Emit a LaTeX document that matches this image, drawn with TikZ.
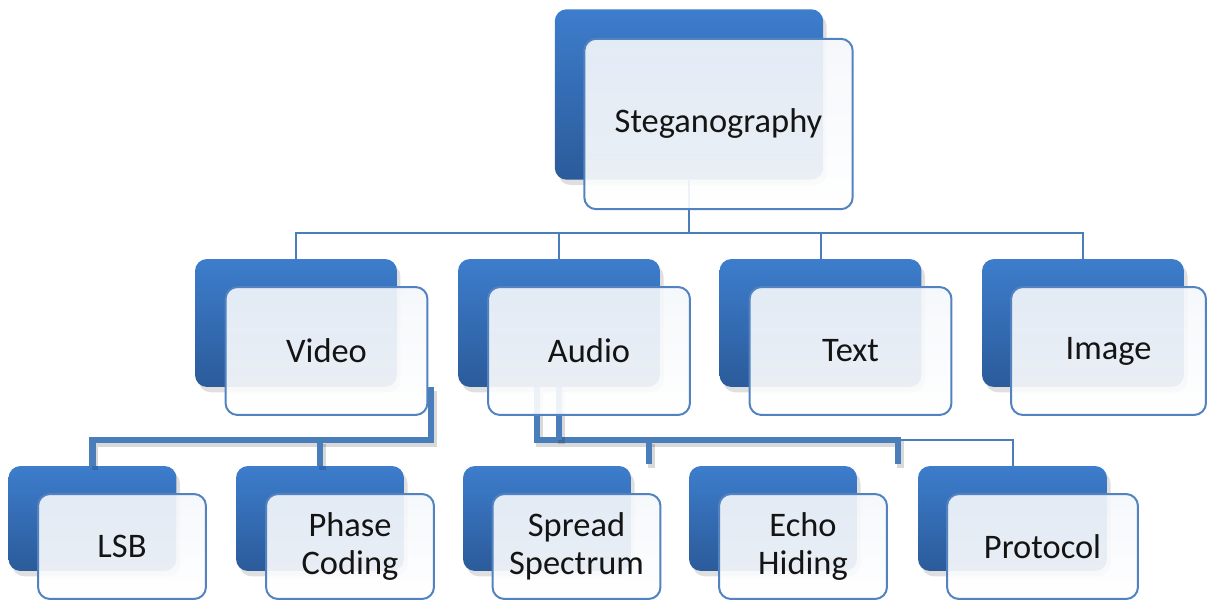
\documentclass[tikz,border=0pt]{standalone}
\usepackage{fontspec}
\setmainfont{Carlito}
\usepackage{xcolor}
\usetikzlibrary{shadows, calc}
\definecolor{stegoblue}{HTML}{3D7DCC}
\definecolor{stegodark}{HTML}{2B5B9A}
\definecolor{linkblue}{HTML}{4A7EBB}
\definecolor{rimblue}{HTML}{5282BF}
\definecolor{paleblue}{HTML}{F4F7FB}

\begin{document}
\begin{tikzpicture}[x=0.02cm, y=-0.02cm,
  back/.style={rectangle, rounded corners=0.24cm,
    inner sep=0pt, outer sep=0pt,
    top color=stegoblue, bottom color=stegodark, draw=none,
    drop shadow={shadow xshift=2pt, shadow yshift=-3pt,
      opacity=0.25}},
  front/.style={rectangle, rounded corners=0.24cm,
    inner sep=0pt, outer sep=0pt,
    draw=rimblue, line width=0.04cm,
    top color=paleblue, bottom color=white,
    fill opacity=0.91, text opacity=1, text=black!92,
    align=center, font=\fontsize{19.6}{21.6}\selectfont},
  big/.style={minimum width=5.37cm, minimum height=3.41cm},
  mid/.style={minimum width=4.04cm, minimum height=2.56cm},
  low/.style={minimum width=3.36cm, minimum height=2.1cm},
  link/.style={draw=linkblue, line width=0.04cm},
  bus/.style={draw=linkblue, line width=0.13cm, line join=miter,
    preaction={draw=black, opacity=0.15, line width=0.13cm,
      transform canvas={xshift=1.5pt, yshift=-2pt}}}
]
\useasboundingbox (0,0) rectangle (1207,601);

% Root (back card)
\node[back, big] (stegoB) at (689,94.5) {};

% Media row (back cards)
\node[back, mid] (vidB) at (296,323) {};
\node[back, mid] (audB) at (559,323) {};
\node[back, mid] (txtB) at (820.5,323) {};
\node[back, mid] (imgB) at (1083,323) {};

% Method row (back cards)
\node[back, low] (lsbB) at (92.5,518.5) {};
\node[back, low] (phaseB) at (320,518.5) {};
\node[back, low] (spreadB) at (547,518.5) {};
\node[back, low] (echoB) at (773,518.5) {};
\node[back, low, minimum width=3.78cm] (protB) at (1012.5,518.5) {};

% Root links
\coordinate (hub) at ($(stegoB.south)+(0,53)$);
\draw[link] (stegoB.south) -- (hub);
\draw[link] (vidB.north) |- (hub) -| (imgB.north);
\draw[link] (audB.north) -- (audB.north |- hub);
\draw[link] (txtB.north) -- (txtB.north |- hub);

% Video links
\coordinate (vidtap) at (431,387);
\coordinate (vidbus) at (431,440);
\draw[bus] (vidtap) -- (vidbus) -| (lsbB.north);
\draw[bus] (phaseB.north) -- (phaseB.north |- vidbus);

% Audio links
\coordinate (audtap) at (537,387);
\coordinate (audbus) at (537,440);
\coordinate (sstub) at (649,464);
\coordinate (estub) at (898,464);
\draw[bus] (audtap) -- (audbus) -- (audbus -| estub) -- (estub);
\draw[bus] (audB.south) -- (audB.south |- audbus);
\draw[bus] (sstub) -- (sstub |- audbus);
\draw[link] (audbus -| estub) -| (protB.north);

% Front cards
\node[front, big] (stego) at (718.5,124) {Steganography};

\node[front, mid] (vid) at (326.5,351) {Video};
\node[front, mid] (aud) at (589,351) {Audio};
\node[front, mid] (txt) at (850.5,351) {Text};
\node[front, mid, minimum width=3.9cm] (img) at (1108.5,351) {Image};

\node[front, low] (lsb) at (122,546.5) {LSB};
\node[front, low] (phase) at (350,546.5) {Phase\\Coding};
\node[front, low] (spread) at (576.5,546.5) {Spread\\Spectrum};
\node[front, low] (echo) at (803,546.5) {Echo\\Hiding};
\node[front, low, minimum width=3.82cm] (prot) at (1042.5,546.5)
  {Protocol};
\end{tikzpicture}
\end{document}
